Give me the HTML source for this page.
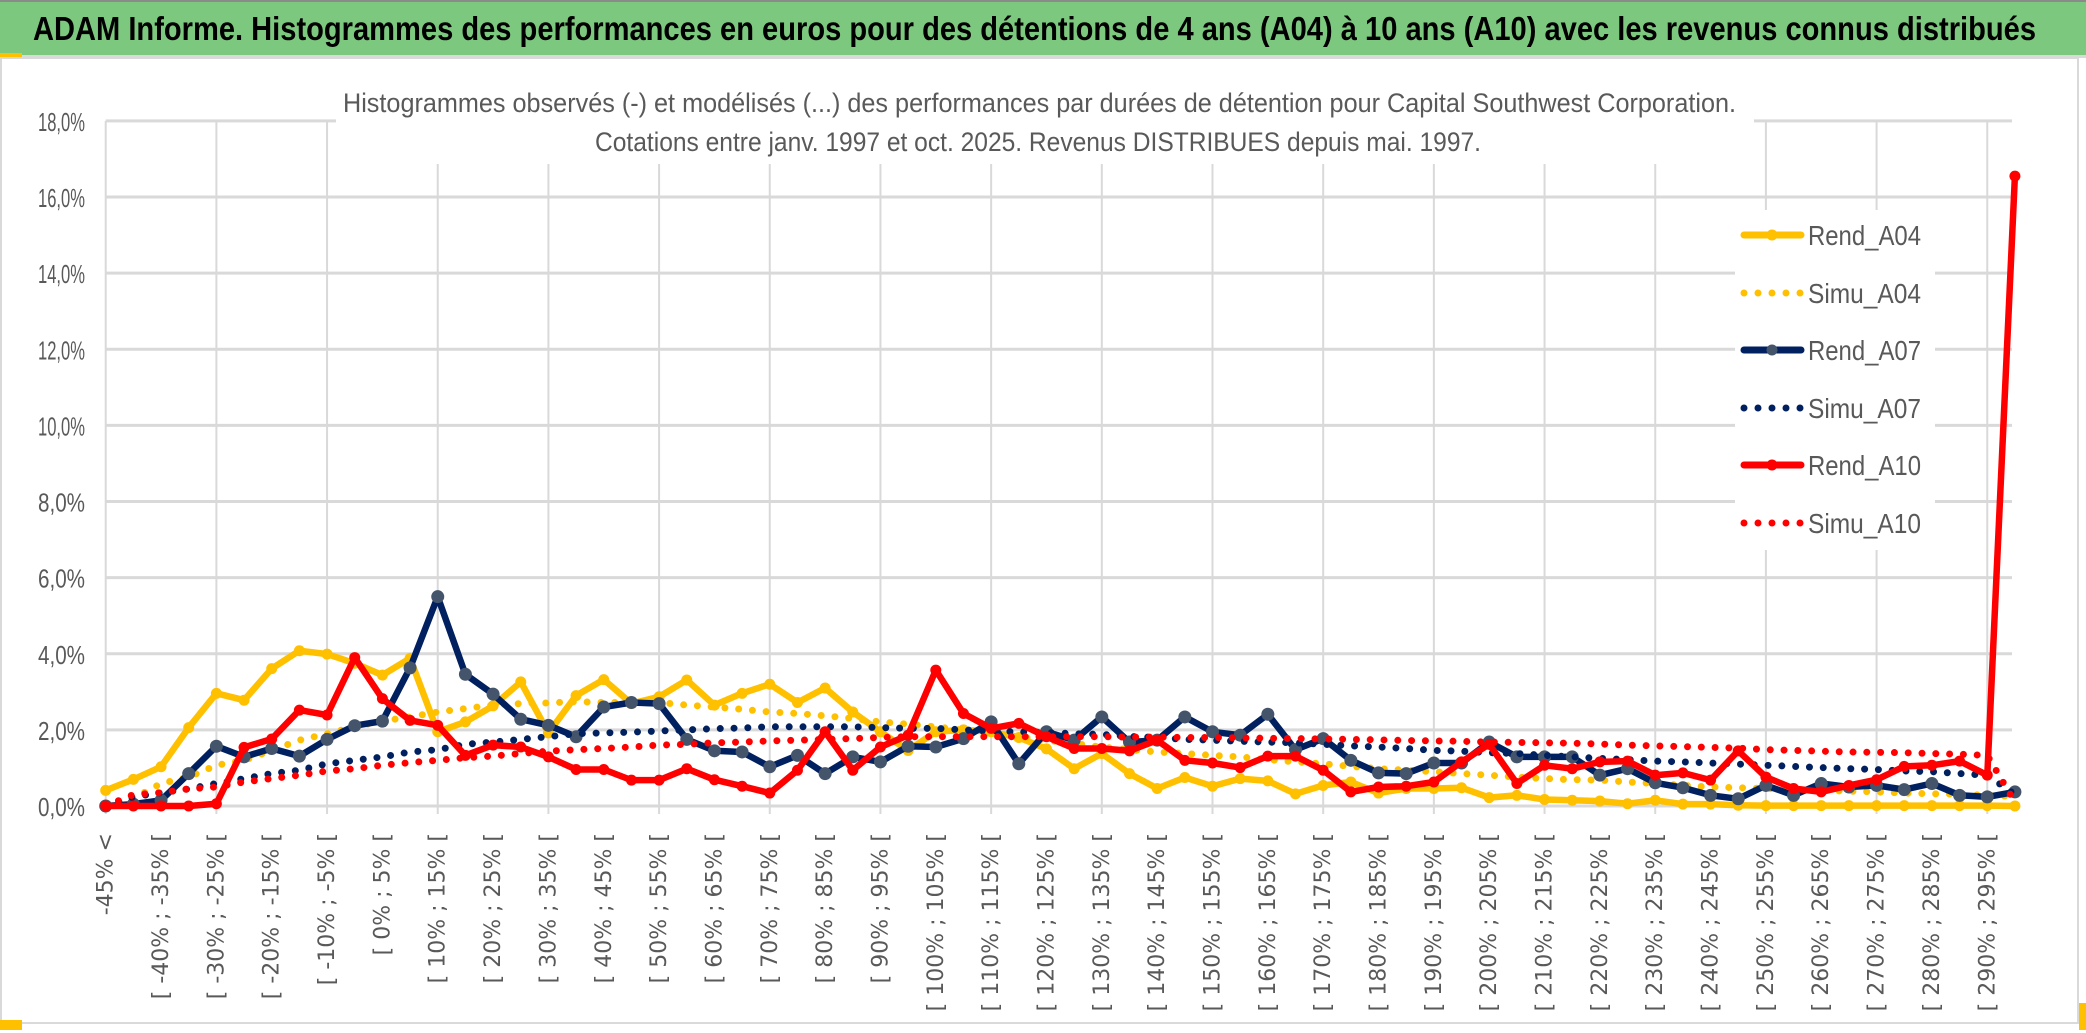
<!DOCTYPE html>
<html><head><meta charset="utf-8">
<style>
html,body{margin:0;padding:0;background:#fff;}
svg{display:block;}
</style></head>
<body>
<svg id="chart" width="2086" height="1033" viewBox="0 0 2086 1033" xmlns="http://www.w3.org/2000/svg">
  <rect x="0" y="0" width="2086" height="1033" fill="#ffffff"/>
  <rect x="0" y="2" width="2086" height="53" fill="#7dc87f"/>
  <rect x="0" y="0" width="2086" height="2" fill="#8a8a8a"/>
  <rect x="0" y="55" width="2086" height="3" fill="#d9d9d9"/>
  <rect x="0" y="53" width="22" height="4" fill="#ffc000"/>
  <text x="33" y="40" font-family="Liberation Sans, sans-serif" font-weight="bold" font-size="33" fill="#000" textLength="2003" lengthAdjust="spacingAndGlyphs">ADAM Informe. Histogrammes des performances en euros pour des détentions de 4 ans (A04) à 10 ans (A10) avec les revenus connus distribués</text>
  <rect x="1" y="58" width="2077" height="965" fill="none" stroke="#d9d9d9" stroke-width="2"/>
  <rect x="0" y="1020" width="22" height="10" fill="#ffc000"/>
  <rect x="2079" y="1003" width="7" height="27" fill="#ffc000"/>
  <g id="grid"></g>
  <g id="series"></g>
  <g id="axes"></g>
  <rect x="336" y="78" width="1418" height="86" fill="#fff"/>
  <text x="343" y="112" font-family="Liberation Sans, sans-serif" font-size="27" fill="#595959" textLength="1393" lengthAdjust="spacingAndGlyphs">Histogrammes observés (-) et modélisés (...) des performances par durées de détention pour Capital Southwest Corporation.</text>
  <text x="595" y="151" font-family="Liberation Sans, sans-serif" font-size="27" fill="#595959" textLength="886" lengthAdjust="spacingAndGlyphs">Cotations entre janv. 1997 et oct. 2025. Revenus DISTRIBUES depuis mai. 1997.</text>
  <g id="legend"></g>
</svg>
<script>
const categories = ["-45% <"];
for (let k = 1; k < 70; k++) { const a = -50 + 5 * k; categories.push("[ " + a + "% ; " + (a + 5) + "% ["); }
const yTicks = [0, 2, 4, 6, 8, 10, 12, 14, 16, 18];
const yTickLabels = ["0,0%","2,0%","4,0%","6,0%","8,0%","10,0%","12,0%","14,0%","16,0%","18,0%"];
const rendA04 = [0.41,0.70,1.03,2.06,2.96,2.78,3.61,4.08,3.99,3.75,3.44,3.88,1.95,2.21,2.63,3.26,1.92,2.9,3.32,2.69,2.87,3.31,2.65,2.96,3.2,2.72,3.1,2.47,1.95,1.46,1.95,2.0,1.95,1.8,1.5,0.98,1.38,0.85,0.46,0.75,0.52,0.72,0.66,0.32,0.54,0.63,0.34,0.46,0.46,0.48,0.22,0.28,0.17,0.15,0.13,0.06,0.15,0.05,0.05,0.02,0.01,0.01,0.01,0.01,0.01,0.01,0.01,0.01,0.01,0.0];
const simuA04 = [0.0,0.2,0.59,0.76,1.07,1.2,1.46,1.73,1.9,2.08,2.23,2.34,2.47,2.56,2.65,2.69,2.71,2.74,2.72,2.72,2.72,2.65,2.6,2.54,2.47,2.43,2.37,2.3,2.21,2.15,2.08,1.99,1.9,1.82,1.73,1.64,1.55,1.48,1.42,1.38,1.33,1.29,1.22,1.16,1.11,1.04,0.98,0.94,0.9,0.85,0.81,0.76,0.72,0.69,0.68,0.63,0.59,0.54,0.5,0.48,0.46,0.43,0.41,0.39,0.37,0.34,0.32,0.31,0.28,0.25];
const rendA07 = [0,0.05,0.15,0.85,1.57,1.29,1.51,1.31,1.75,2.11,2.23,3.63,5.5,3.46,2.94,2.28,2.12,1.82,2.6,2.72,2.69,1.75,1.45,1.42,1.03,1.33,0.85,1.29,1.16,1.57,1.55,1.77,2.21,1.11,1.95,1.73,2.34,1.68,1.73,2.34,1.95,1.86,2.41,1.48,1.77,1.2,0.87,0.85,1.13,1.13,1.68,1.29,1.29,1.29,0.81,0.98,0.61,0.48,0.28,0.19,0.54,0.28,0.59,0.5,0.54,0.43,0.59,0.28,0.24,0.37];
const simuA07 = [0.0,0.24,0.35,0.45,0.59,0.72,0.85,0.94,1.11,1.2,1.29,1.42,1.48,1.62,1.68,1.75,1.82,1.9,1.92,1.94,1.97,2.0,2.03,2.05,2.08,2.08,2.08,2.08,2.06,2.04,2.04,2.0,1.97,1.95,1.93,1.9,1.88,1.83,1.8,1.75,1.73,1.7,1.68,1.66,1.62,1.58,1.55,1.51,1.46,1.44,1.4,1.38,1.33,1.29,1.25,1.22,1.18,1.16,1.13,1.1,1.07,1.04,1.01,0.98,0.96,0.92,0.9,0.85,0.81,0.3];
const rendA10 = [0,0,0,0,0.06,1.54,1.76,2.52,2.39,3.9,2.82,2.25,2.12,1.33,1.6,1.55,1.29,0.96,0.96,0.68,0.68,0.98,0.69,0.52,0.34,0.94,1.95,0.94,1.55,1.86,3.57,2.43,2.04,2.17,1.82,1.51,1.51,1.45,1.73,1.2,1.13,1.01,1.31,1.31,0.94,0.37,0.5,0.52,0.63,1.16,1.62,0.59,1.07,0.98,1.16,1.18,0.81,0.87,0.68,1.45,0.76,0.46,0.37,0.54,0.69,1.04,1.07,1.18,0.81,16.55];
const simuA10 = [0.0,0.3,0.35,0.45,0.5,0.63,0.72,0.81,0.92,0.98,1.07,1.14,1.2,1.27,1.31,1.38,1.44,1.48,1.51,1.55,1.6,1.62,1.66,1.68,1.71,1.73,1.75,1.77,1.8,1.82,1.82,1.82,1.82,1.82,1.82,1.82,1.82,1.81,1.81,1.8,1.8,1.79,1.78,1.77,1.76,1.75,1.74,1.72,1.71,1.7,1.68,1.67,1.66,1.65,1.63,1.6,1.58,1.56,1.54,1.52,1.48,1.46,1.44,1.42,1.41,1.4,1.38,1.36,1.33,0.1];

const NS = "http://www.w3.org/2000/svg";
const X0 = 105.7, STEP = 27.67, Y0 = 806, PER = 38.06;
function xs(i){ return X0 + STEP * i; }
function ys(v){ return Y0 - PER * v; }
function mk(tag, attrs, parent){ const e = document.createElementNS(NS, tag); for (const k in attrs) e.setAttribute(k, attrs[k]); parent.appendChild(e); return e; }

const grid = document.getElementById('grid');
const axes = document.getElementById('axes');
const XR = 2012;
yTicks.forEach((t, j) => {
  const l = mk('line', {x1: X0, x2: XR, y1: ys(t), y2: ys(t), stroke: '#d9d9d9', 'stroke-width': 3}, grid);
  
  
  const tx = mk('text', {x: 85, y: ys(t) + 10, 'text-anchor': 'end', 'font-family': 'Liberation Sans, sans-serif', 'font-size': 26, fill: '#595959', textLength: yTickLabels[j].length > 5 ? 58 : 47, lengthAdjust: 'spacingAndGlyphs'}, axes);
  tx.textContent = yTickLabels[j];
  
  
});
for (let i = 0; i < categories.length; i += 4) {
  const l = mk('line', {x1: xs(i), x2: xs(i), y1: ys(18), y2: Y0 + 8, stroke: '#d9d9d9', 'stroke-width': 2}, grid);
  
  
}
for (let i = 0; i < categories.length; i += 2) {
  const x = xs(i) + 7, y = 833;
  const tx = mk('text', {x: x, y: y, transform: 'rotate(-90 ' + x + ' ' + y + ')', 'text-anchor': 'end', 'font-family': 'DejaVu Sans, sans-serif', 'font-size': 22, fill: '#595959'}, axes);
  tx.textContent = categories[i];
  
  
}

const seriesG = document.getElementById('series');
function pts(arr){ return arr.map((v, i) => xs(i).toFixed(1) + ',' + ys(v).toFixed(1)).join(' '); }
function solid(arr, color, mcolor, r, name){
  const g = mk('g', {}, seriesG);
  
  
  mk('polyline', {points: pts(arr), fill: 'none', stroke: color, 'stroke-width': 6.5, 'stroke-linejoin': 'round'}, g);
  arr.forEach((v, i) => {
    const c = mk('circle', {cx: xs(i), cy: ys(v), r: r, fill: mcolor}, g);
    
    
  });
}
function dotted(arr, color, name){
  const p = mk('polyline', {points: pts(arr), fill: 'none', stroke: color, 'stroke-width': 7, 'stroke-linecap': 'round', 'stroke-dasharray': '0 13.8'}, seriesG);
  
  
}
solid(rendA04, '#ffc000', '#ffc000', 5.5, 'rend-a04-line');
dotted(simuA04, '#ffc000', 'simu-a04-line');
solid(rendA07, '#002060', '#44546a', 6.5, 'rend-a07-line');
dotted(simuA07, '#002060', 'simu-a07-line');
solid(rendA10, '#ff0000', '#ff0000', 5.5, 'rend-a10-line');
dotted(simuA10, '#ff0000', 'simu-a10-line');

const legend = document.getElementById('legend');
mk('rect', {x: 1735, y: 210, width: 200, height: 340, fill: '#fff'}, legend);
const legNames = ['Rend_A04','Simu_A04','Rend_A07','Simu_A07','Rend_A10','Simu_A10'];
const legColors = ['#ffc000','#ffc000','#002060','#002060','#ff0000','#ff0000'];
const legMarker = ['#ffc000',null,'#44546a',null,'#ff0000',null];
const legY = [235, 293, 350, 408, 465, 523];
legNames.forEach((n, j) => {
  const g = mk('g', {}, legend);
  
  
  const y = legY[j];
  if (legMarker[j]) {
    mk('line', {x1: 1744, x2: 1801, y1: y, y2: y, stroke: legColors[j], 'stroke-width': 7, 'stroke-linecap': 'round'}, g);
    mk('circle', {cx: 1772, cy: y, r: 5.5, fill: legMarker[j]}, g);
  } else {
    mk('line', {x1: 1744, x2: 1802, y1: y, y2: y, stroke: legColors[j], 'stroke-width': 7, 'stroke-linecap': 'round', 'stroke-dasharray': '0 14'}, g);
  }
  const t = mk('text', {x: 1808, y: y + 10, 'font-family': 'Liberation Sans, sans-serif', 'font-size': 28, fill: '#595959', textLength: 113, lengthAdjust: 'spacingAndGlyphs'}, g);
  t.textContent = n;
});
</script>
</body></html>
